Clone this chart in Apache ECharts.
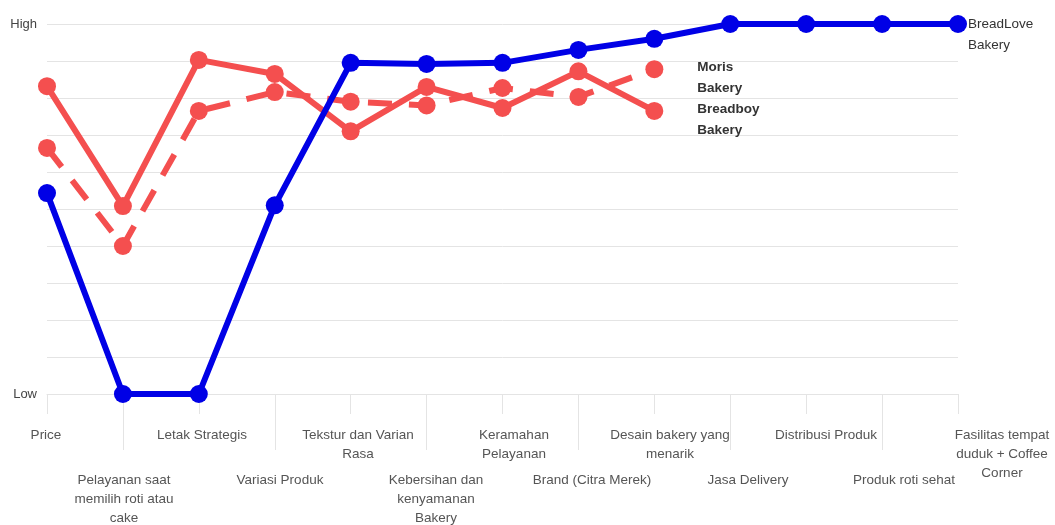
<!DOCTYPE html>
<html>
<head>
<meta charset="utf-8">
<script src="https://cdn.jsdelivr.net/npm/echarts@6/dist/echarts.min.js"></script>
<style>html,body{margin:0;padding:0;background:#fff;}#c{width:1055px;height:525px;}</style>
</head>
<body>
<div id="c"></div>
<script>
const categories = ['Price','Pelayanan saat memilih roti atau cake','Letak Strategis','Variasi Produk','Tekstur dan Varian Rasa','Kebersihan dan kenyamanan Bakery','Keramahan Pelayanan','Brand (Citra Merek)','Desain bakery yang menarik','Jasa Delivery','Distribusi Produk','Produk roti sehat','Fasilitas tempat duduk + Coffee Corner'];
const tickLabels = ['Price','Pelayanan saat\nmemilih roti atau\ncake','Letak Strategis','Variasi Produk','Tekstur dan Varian\nRasa','Kebersihan dan\nkenyamanan\nBakery','Keramahan\nPelayanan','Brand (Citra Merek)','Desain bakery yang\nmenarik','Jasa Delivery','Distribusi Produk','Produk roti sehat','Fasilitas tempat\nduduk + Coffee\nCorner'];
const breadLove = [5.43, 0, 0, 5.1, 8.95, 8.92, 8.95, 9.3, 9.6, 10, 10, 10, 10];
const moris = [6.65, 4.0, 7.65, 8.16, 7.9, 7.8, 8.27, 8.03, 8.78];
const breadboy = [8.32, 5.08, 9.03, 8.65, 7.1, 8.3, 7.73, 8.72, 7.65];
const yTickNames = {0: 'Low', 10: 'High'};

const chart = echarts.init(document.getElementById('c'), null, {renderer: 'canvas'});
const FONT = '"Liberation Sans", Arial, sans-serif';
const gridColor = '#e4e4e4';

function labelFmt(v) {
  const idx = tickLabels.indexOf(v);
  const style = idx === tickLabels.length - 1 ? 'e' : 't';
  const lines = v.split('\n').map(s => '{' + style + '|' + s + '}').join('\n');
  return (idx % 2 === 1) ? '{sp| }\n' + lines : lines;
}

const tStyle = {fontFamily: FONT, fontSize: 13.5, color: '#555', lineHeight: 19, align: 'center'};

chart.setOption({
  animation: false,
  backgroundColor: '#fff',
  grid: [
    {left: 47, right: 97, top: 24, bottom: 131},
    {left: 46, right: 73, top: 24, bottom: 131, show: false}
  ],
  xAxis: [
    {type: 'category', gridIndex: 0, data: categories, boundaryGap: false,
     axisLine: {show: true, lineStyle: {color: gridColor, width: 1}},
     axisTick: {show: true, length: 20, interval: 0, lineStyle: {color: gridColor}},
     axisLabel: {show: false}, splitLine: {show: false}},
    {type: 'category', gridIndex: 0, position: 'bottom', data: categories, boundaryGap: false,
     axisLine: {show: false},
     axisTick: {show: true, length: 56, interval: (i) => i % 2 === 1, lineStyle: {color: gridColor}},
     axisLabel: {show: false}, splitLine: {show: false}},
    {type: 'category', gridIndex: 1, data: tickLabels, boundaryGap: false,
     axisLine: {show: false}, axisTick: {show: false}, splitLine: {show: false},
     axisLabel: {show: true, interval: 0, margin: 32, hideOverlap: false,
       formatter: labelFmt,
       rich: {
         t: tStyle,
         e: Object.assign({}, tStyle, {padding: [0, 0, 0, 40]}),
         sp: {fontSize: 10, lineHeight: 45}
       }}}
  ],
  yAxis: [
    {type: 'value', gridIndex: 0, min: 0, max: 10, interval: 1,
     axisLine: {show: false}, axisTick: {show: false},
     splitLine: {show: true, lineStyle: {color: gridColor, width: 1}},
     axisLabel: {show: true, margin: 10, fontFamily: FONT, fontSize: 13, color: '#444',
       formatter: (v) => yTickNames[v] || ''}},
    {type: 'value', gridIndex: 1, min: 0, max: 10, show: false}
  ],
  series: [
    {name: 'BreadLove Bakery', type: 'line', xAxisIndex: 0, yAxisIndex: 0, data: breadLove,
     symbol: 'circle', symbolSize: 18, z: 3,
     itemStyle: {color: '#0000e6'}, lineStyle: {color: '#0000e6', width: 6},
     endLabel: {show: true, formatter: 'BreadLove\nBakery', fontFamily: FONT, fontSize: 13.5,
       color: '#333', lineHeight: 21, align: 'left', verticalAlign: 'top', offset: [2, -10]}},
    {name: 'Moris Bakery', type: 'line', xAxisIndex: 0, yAxisIndex: 0, data: moris,
     symbol: 'circle', symbolSize: 18, z: 2,
     itemStyle: {color: '#f44f4f'}, lineStyle: {color: '#f44f4f', width: 6, type: [24, 17]},
     endLabel: {show: true, formatter: 'Moris\nBakery', fontFamily: FONT, fontSize: 13.5, fontWeight: 'bold',
       color: '#333', lineHeight: 21, align: 'left', verticalAlign: 'top', offset: [35, -12]}},
    {name: 'Breadboy Bakery', type: 'line', xAxisIndex: 0, yAxisIndex: 0, data: breadboy,
     symbol: 'circle', symbolSize: 18, z: 2,
     itemStyle: {color: '#f44f4f'}, lineStyle: {color: '#f44f4f', width: 6},
     endLabel: {show: true, formatter: 'Breadboy\nBakery', fontFamily: FONT, fontSize: 13.5, fontWeight: 'bold',
       color: '#333', lineHeight: 21, align: 'left', verticalAlign: 'top', offset: [35, -12]}}
  ]
});
</script>
</body>
</html>
